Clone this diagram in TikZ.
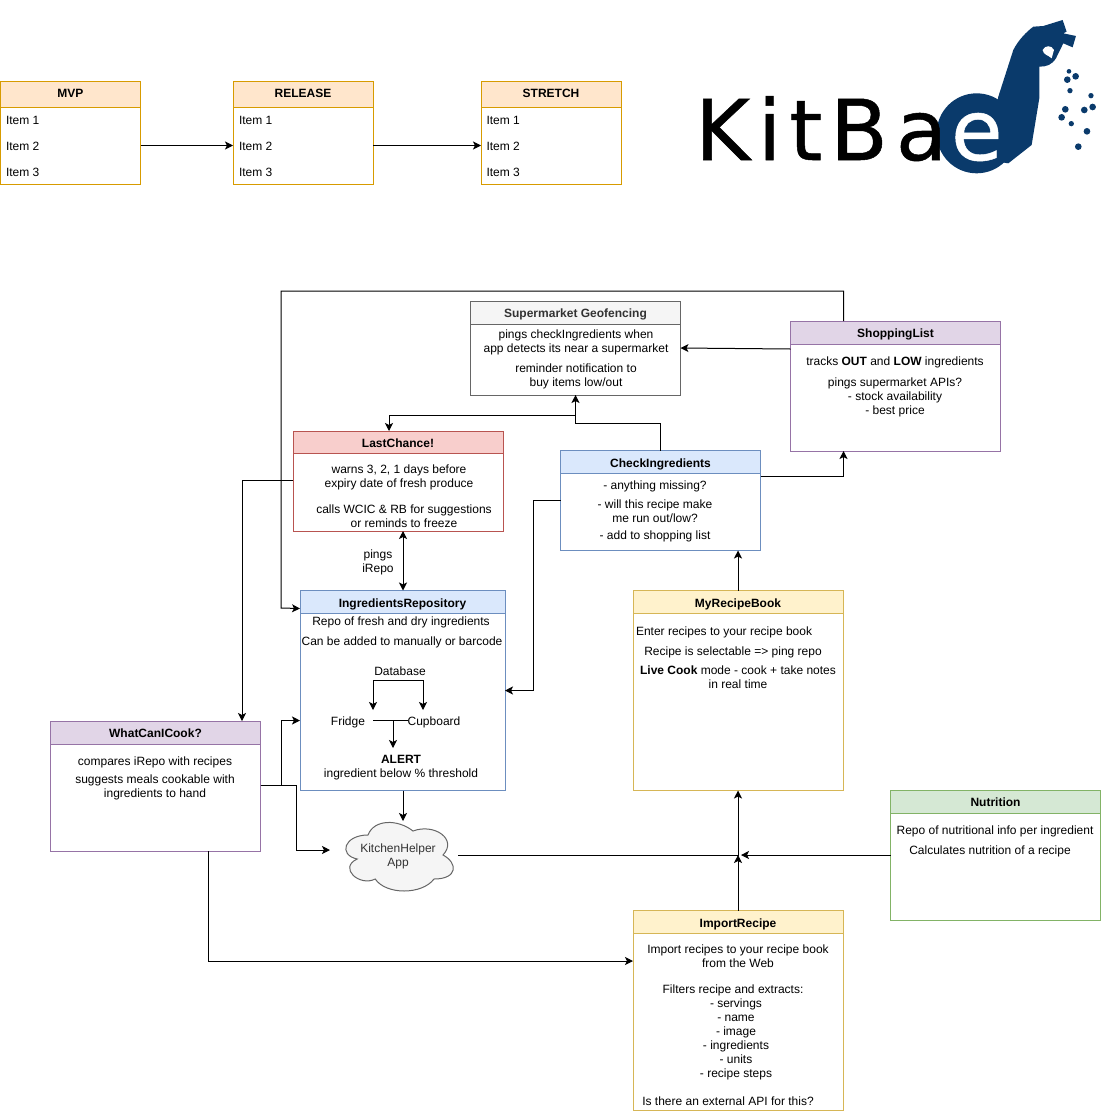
\documentclass[tikz,border=0pt]{standalone}
\usepackage{fontspec}
\setmainfont{Liberation Sans}
\newfontfamily\logofont[LetterSpace=9.5,FakeBold=0.6]{DejaVu Sans}
\usetikzlibrary{arrows.meta}
\definecolor{logoblue}{HTML}{0A3A6B}
\definecolor{orangeline}{HTML}{D79B00}
\definecolor{orangefill}{HTML}{FFE6CC}
\definecolor{greyline}{HTML}{666666}
\definecolor{greyfill}{HTML}{F5F5F5}
\definecolor{greytext}{HTML}{333333}
\definecolor{purpleline}{HTML}{9673A6}
\definecolor{purplefill}{HTML}{E1D5E7}
\definecolor{redline}{HTML}{B85450}
\definecolor{redfill}{HTML}{F8CECC}
\definecolor{blueline}{HTML}{6C8EBF}
\definecolor{bluefill}{HTML}{DAE8FC}
\definecolor{yellowline}{HTML}{D6B656}
\definecolor{yellowfill}{HTML}{FFF2CC}
\definecolor{greenline}{HTML}{82B366}
\definecolor{greenfill}{HTML}{D5E8D4}
\tikzset{
  every node/.style={font=\fontsize{12}{14}\selectfont, inner sep=0pt, outer sep=0pt, align=center},
  lane/.style={draw=#1, fill=white, line width=1pt, anchor=north west},
  head/.style 2 args={draw=#1, fill=#2, line width=1pt, anchor=north west, text height=10.8pt, text depth=0pt,
    font=\fontsize{12}{14}\selectfont\bfseries},
  conn/.style={->, line width=1pt},
  >={Stealth[length=8pt,width=8pt,inset=2pt]},
}
\begin{document}
\begin{tikzpicture}[x=1pt,y=-1pt]
  \useasboundingbox (0,0) rectangle (1104,1111);
  % release plan
  \node[lane=orangeline, minimum width=140, minimum height=103] (mvp) at (0.5,81) {};
  \node[head={orangeline}{orangefill}, text height=6pt, minimum width=140, minimum height=26] (mvphead) at (mvp.north west) {MVP};
  \node[lane=orangeline, minimum width=140, minimum height=103] (release) at (233,81) {};
  \node[head={orangeline}{orangefill}, text height=6pt, minimum width=140, minimum height=26] (releasehead) at (release.north west) {RELEASE};
  \node[lane=orangeline, minimum width=140, minimum height=103] (stretch) at (481,81) {};
  \node[head={orangeline}{orangefill}, text height=6pt, minimum width=140, minimum height=26] (stretchhead) at (stretch.north west) {STRETCH};
  \foreach \plan/\px in {mvp/6,release/239,stretch/486.5}
    \foreach \row/\py in {1/120,2/146,3/172}
      \node[anchor=west] (\plan item\row) at (\px,\py) {Item \row};
  \draw[conn] ([yshift=-13pt]mvp.east) -- ([yshift=-13pt]release.west);
  \draw[conn] ([yshift=-13pt]release.east) -- ([yshift=-13pt]stretch.west);

  % logo
  \begin{scope}[shift={(680,0)},x=0.3333pt,y=-0.3333pt]
    \fill[logoblue] (890,400) circle (120);
    \fill[logoblue] (955,290) -- (1000,150) .. controls (1015,120) and (1040,95) .. (1060,80)
      -- (1090,78) -- (1148,60) -- (1160,95) -- (1150,100) -- (1188,108) -- (1178,142) -- (1150,130)
      -- (1128,175) .. controls (1115,195) and (1100,200) .. (1078,200) -- (1078,295) -- (1055,435)
      -- (985,490) -- (920,480) -- cycle;
    \fill[white] (1088,150) .. controls (1095,135) and (1115,135) .. (1122,150) -- (1115,175)
      .. controls (1105,165) and (1090,165) .. (1088,150) -- cycle;
    \foreach \dotx/\doty/\dotr in {1167/214/7,1187/229/10,1162/239/10,1170/272/8,1233/287/8,1156/328/10,
      1213/330/10,1238/321/10,1145/352/10,1174/371/8,1221/394/10,1195/440/10}
      \fill[logoblue] (\dotx,\doty) circle (\dotr);
  \end{scope}
  \node[anchor=base west, font=\logofont\fontsize{84}{84}\selectfont] (logotext) at (695,160) {KitBa};
  \node[anchor=base west, text=white, font=\logofont\fontsize{84}{84}\selectfont] (logoe) at (951,160) {e};

  % geofencing
  \node[lane=greyline, minimum width=210, minimum height=94] (geo) at (470.5,301) {};
  \node[head={greyline}{greyfill}, text=greytext, minimum width=210, minimum height=23] (geohead) at (geo.north west) {Supermarket Geofencing};
  \node (geotext) at (576,342) {pings checkIngredients when\\app detects its near a supermarket};
  \node (geonote) at (576,376) {reminder notification to\\buy items low/out};

  % shopping list
  \node[lane=purpleline, minimum width=210, minimum height=130] (shop) at (790.5,321) {};
  \node[head={purpleline}{purplefill}, minimum width=210, minimum height=23] (shophead) at (shop.north west) {ShoppingList};
  \node (shoptext) at (895,362) {tracks \textbf{OUT} and \textbf{LOW} ingredients};
  \node (shopnote) at (895,397) {pings supermarket APIs?\\- stock availability\\- best price};

  % last chance
  \node[lane=redline, minimum width=210, minimum height=100] (last) at (293,431) {};
  \node[head={redline}{redfill}, minimum width=210, minimum height=22] (lasthead) at (last.north west) {LastChance!};
  \node (lasttext) at (399,477) {warns 3, 2, 1 days before\\expiry date of fresh produce};
  \node (lastnote) at (404,516) {calls WCIC \& RB for suggestions\\or reminds to freeze};

  % check ingredients
  \node[lane=blueline, minimum width=200, minimum height=100] (check) at (560.5,450.5) {};
  \node[head={blueline}{bluefill}, minimum width=200, minimum height=23] (checkhead) at (check.north west) {CheckIngredients};
  \node (checktext) at (655,486) {- anything missing?};
  \node (checkmake) at (655,511) {- will this recipe make\\me run out/low?};
  \node (checkadd) at (655,536) {- add to shopping list};

  % ingredients repository
  \node[lane=blueline, minimum width=205, minimum height=200] (repo) at (300,590.5) {};
  \node[head={blueline}{bluefill}, minimum width=205, minimum height=23] (repohead) at (repo.north west) {IngredientsRepository};
  \node (repotext) at (401,622) {Repo of fresh and dry ingredients};
  \node (repomanual) at (402,642) {Can be added to manually or barcode};
  \node (database) at (400,671) {Database};
  \node (fridge) at (348,722) {Fridge};
  \node (cupboard) at (434,722) {Cupboard};
  \node (alert) at (401,768) {\textbf{ALERT}\\ingredient below \% threshold};
  \coordinate (dbleft) at (373,680);
  \coordinate (dbright) at (423,680);
  \coordinate (fridgeout) at (373,720.5);
  \coordinate (shelfmid) at (393,720.5);
  \draw[conn] (dbleft) -- (373,710);
  \draw[conn] (dbright) -- (423,710);
  \draw[line width=1pt] (dbleft) -- (dbright);
  \draw[line width=1pt] (fridgeout) -- (cupboard.west |- fridgeout);
  \draw[conn] (shelfmid) -- (393,748);

  % recipe book
  \node[lane=yellowline, minimum width=210, minimum height=200] (book) at (633,590.5) {};
  \node[head={yellowline}{yellowfill}, minimum width=210, minimum height=23] (bookhead) at (book.north west) {MyRecipeBook};
  \node[anchor=west] (booktext) at (636,632) {Enter recipes to your recipe book};
  \node (bookselect) at (733,652) {Recipe is selectable =\textgreater{} ping repo};
  \node (bookcook) at (738,677) {\textbf{Live Cook} mode - cook + take notes\\in real time};

  % what can i cook
  \node[lane=purpleline, minimum width=210, minimum height=130] (cook) at (50.5,721) {};
  \node[head={purpleline}{purplefill}, minimum width=210, minimum height=23] (cookhead) at (cook.north west) {WhatCanICook?};
  \node (cooktext) at (155,762) {compares iRepo with recipes};
  \node (cooknote) at (155,787) {suggests meals cookable with\\ingredients to hand};

  % kitchen helper
  \fill[greyfill, draw=greyline, line width=1pt, x=120pt, y=-80pt, shift={(338pt,-815pt)}]
    (0.25,0.25) .. controls (0.05,0.25) and (0,0.5) .. (0.16,0.55)
    .. controls (0,0.66) and (0.18,0.9) .. (0.31,0.8)
    .. controls (0.4,1) and (0.7,1) .. (0.8,0.8)
    .. controls (1,0.8) and (1,0.6) .. (0.875,0.5)
    .. controls (1,0.3) and (0.8,0.1) .. (0.625,0.2)
    .. controls (0.5,0.05) and (0.3,0.05) .. (0.25,0.25) -- cycle;
  \node[text=greytext, minimum width=120, minimum height=80] (app) at (398,856) {KitchenHelper\\App};

  % nutrition
  \node[lane=greenline, minimum width=210, minimum height=130] (food) at (890.5,790) {};
  \node[head={greenline}{greenfill}, minimum width=210, minimum height=23] (foodhead) at (food.north west) {Nutrition};
  \node (foodtext) at (995,831) {Repo of nutritional info per ingredient};
  \node (foodcalc) at (990,851) {Calculates nutrition of a recipe};

  % import recipe
  \node[lane=yellowline, minimum width=210, minimum height=200] (import) at (633,910.5) {};
  \node[head={yellowline}{yellowfill}, minimum width=210, minimum height=23] (importhead) at (import.north west) {ImportRecipe};
  \node (importtext) at (738,956) {Import recipes to your recipe book\\from the Web};
  \node (importfilter) at (733,990) {Filters recipe and extracts:};
  \node (importlist) at (736,1039) {- servings\\- name\\- image\\- ingredients\\- units\\- recipe steps};
  \node (importapi) at (728,1101) {Is there an external API for this?};

  % connectors
  \coordinate (lastbend) at (389,415);
  \coordinate (joint) at ([yshift=1pt]app.east -| book.south);
  \draw[conn] ([yshift=37pt]shop.west) -- (geo.east);
  \draw[conn] ([xshift=-52pt]shop.north) |- (281,291) -- (281,608) -- ([yshift=-6.5pt]repohead.west);
  \draw[conn] (check.north) |- (geo.south |- 0,423) -- (geo.south);
  \draw[conn] (geo.south) |- (lastbend) -- ([xshift=-9pt]last.north);
  \draw[conn] ([yshift=24.5pt]check.east) -| ([xshift=-52pt]shop.south);
  \draw[conn] (check.west) -- (533,500.5) |- (repo.east);
  \draw[conn] ([yshift=1pt]last.west) -| ([xshift=86.5pt]cook.north);
  \draw[<->, line width=1pt] ([xshift=5pt]last.south) -- (repo.north -| 403,0);
  \node (pings) at (378,562) {pings\\iRepo};
  \draw[conn] ([yshift=1pt]cook.east) -- (281,785) |- ([yshift=-30pt]repo.west);
  \draw[line width=1pt] ([yshift=1pt]cook.east) -- (296,785);
  \draw[conn] (296,785) |- (330,850);
  \draw[conn] (repo.south -| 403,0) -- (403,821);
  \draw[conn] ([yshift=1pt]app.east) -- (joint) -- (book.south);
  \draw[conn] (import.north) -- (joint);
  \draw[conn] (food.west |- joint) -- (741,855);
  \draw[conn] (book.north) -- (check.south -| book.north);
  \draw[conn] ([xshift=52.5pt]cook.south) |- ([yshift=49.5pt]import.west);
\end{tikzpicture}
\end{document}
